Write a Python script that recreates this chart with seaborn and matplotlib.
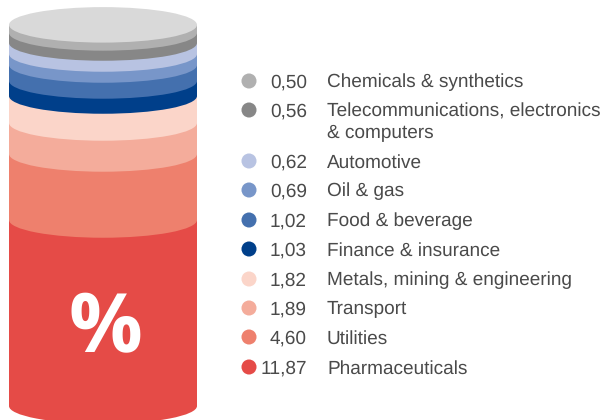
import numpy as np
import pandas as pd
import matplotlib
matplotlib.use("Agg")
import matplotlib.pyplot as plt
from matplotlib.patches import Ellipse
import seaborn as sns

sectors = ["Chemicals & synthetics", "Telecommunications, electronics\n& computers", "Automotive",
           "Oil & gas", "Food & beverage", "Finance & insurance",
           "Metals, mining & engineering", "Transport", "Utilities", "Pharmaceuticals"]
share_labels = ["0,50", "0,56", "0,62", "0,69", "1,02", "1,03", "1,82", "1,89", "4,60", "11,87"]
# band thickness as drawn in the picture (the artwork is not strictly proportional)
band_heights = [0.52, 0.65, 0.71, 0.71, 1.03, 0.97, 1.74, 2.00, 4.26, 12.00]
colors = ["#b0b0b0", "#878787", "#b8c3e2", "#7896c9", "#4470ae",
          "#003f8a", "#fbd5c9", "#f4ac9b", "#ee806d", "#e54b47"]
top_color = "#d9d9d9"
legend_rows_px = [81, 110, 161, 190, 220, 249, 279, 308, 337, 367]

W, H = 600, 420
sns.set_theme(style="white")
plt.rcParams["font.family"] = ["Liberation Sans", "DejaVu Sans"]
plt.rcParams["text.hinting"] = "none"
plt.rcParams["text.hinting_factor"] = 1
fig = plt.figure(figsize=(W / 100, H / 100), dpi=100, facecolor="white")

# cylinder
ax = fig.add_axes([9 / W, 0, 188 / W, 1])
px_per_unit = 15.5
base_px = 406
cap_h = 35.5 / px_per_unit
bottom = 0.0
for value, col in zip(band_heights[::-1], colors[::-1]):
    ax.add_patch(Ellipse((0, bottom), 0.8, cap_h, fc=col, ec="none"))
    sns.barplot(x=["stack"], y=[value], bottom=bottom, color=col, saturation=1,
                width=0.8, linewidth=0, ax=ax)
    bottom += value
ax.add_patch(Ellipse((0, bottom), 0.8, cap_h, fc=top_color, ec="none"))
ax.set_xlim(-0.4, 0.4)
ax.set_ylim(-(H - base_px) / px_per_unit, base_px / px_per_unit)
ax.axis("off")

# legend + labels in pixel coordinates
ov = fig.add_axes([0, 0, 1, 1], facecolor="none")
df = pd.DataFrame({"x": [249] * len(sectors), "y": legend_rows_px, "sector": sectors})
sns.scatterplot(data=df, x="x", y="y", hue="sector", palette=colors, s=117,
                linewidth=0, legend=False, ax=ov)
ov.set_xlim(0, W)
ov.set_ylim(H, 0)
ov.axis("off")
txt = "#4a4a4a"
fs = 13.4
for y, lab, val in zip(legend_rows_px, sectors, share_labels):
    ov.text(307, y - 0.5, val, ha="right", va="center_baseline", fontsize=fs, color=txt)
    first, *rest = lab.split("\n")
    ov.text(327, y - 0.5, first, ha="left", va="center_baseline", fontsize=fs, color=txt)
    if rest:
        ov.text(327, y + 21.5, rest[0], ha="left", va="center_baseline", fontsize=fs, color=txt)
ov.text(105.5, 321, "%", ha="center", va="center_baseline", fontsize=59, fontweight="bold",
        family="Open Sans", color="white")
fig.savefig("out.png", dpi=100)
